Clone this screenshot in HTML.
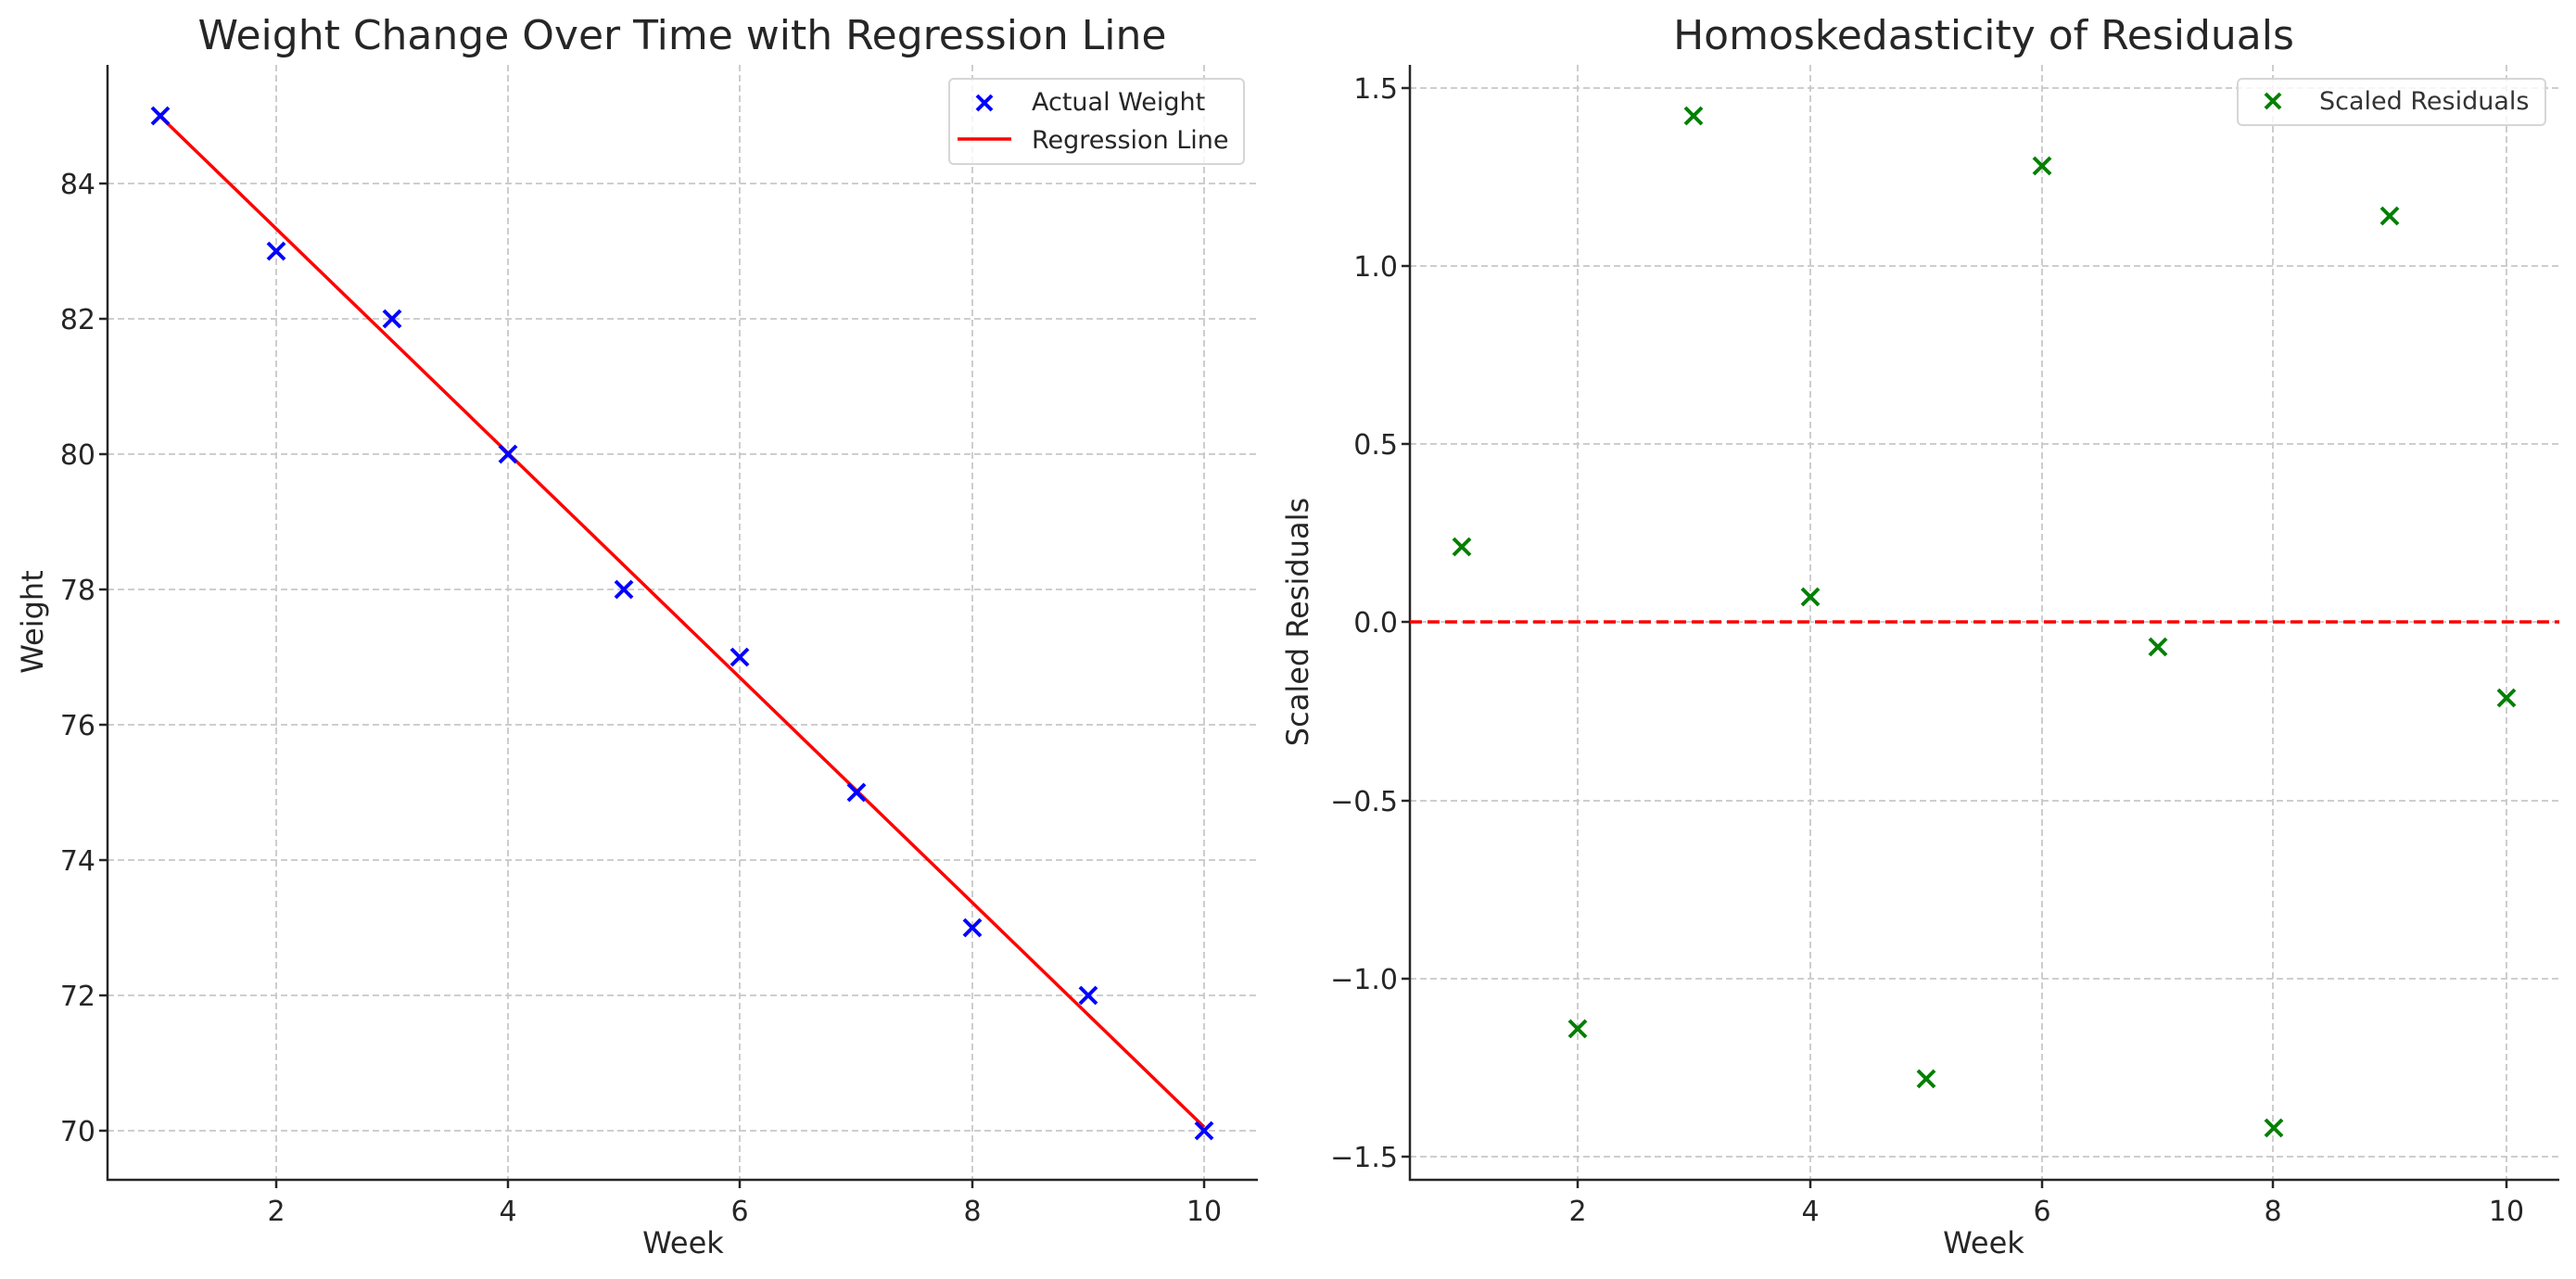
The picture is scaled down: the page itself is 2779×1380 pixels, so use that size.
<!DOCTYPE html>
<html><head><meta charset="utf-8"><style>
html,body{margin:0;padding:0;background:#fff;}
svg{display:block;}
text{font-family:"DejaVu Sans","Liberation Sans",sans-serif;fill:#262626;}
</style></head><body>
<svg width="2779" height="1380" viewBox="0 0 2779 1380" xmlns="http://www.w3.org/2000/svg">
<rect width="2779" height="1380" fill="#fff"/>
<g stroke="#c8c8c8" stroke-width="1.8" stroke-dasharray="7,4" fill="none">
  <line x1="298" y1="70" x2="298" y2="1273"/>
  <line x1="548" y1="70" x2="548" y2="1273"/>
  <line x1="798" y1="70" x2="798" y2="1273"/>
  <line x1="1049" y1="70" x2="1049" y2="1273"/>
  <line x1="1299" y1="70" x2="1299" y2="1273"/>
  <line x1="116" y1="198" x2="1357" y2="198"/>
  <line x1="116" y1="344" x2="1357" y2="344"/>
  <line x1="116" y1="490" x2="1357" y2="490"/>
  <line x1="116" y1="636" x2="1357" y2="636"/>
  <line x1="116" y1="782" x2="1357" y2="782"/>
  <line x1="116" y1="928" x2="1357" y2="928"/>
  <line x1="116" y1="1074" x2="1357" y2="1074"/>
  <line x1="116" y1="1220" x2="1357" y2="1220"/>
  <line x1="1702" y1="70" x2="1702" y2="1273"/>
  <line x1="1953" y1="70" x2="1953" y2="1273"/>
  <line x1="2203" y1="70" x2="2203" y2="1273"/>
  <line x1="2452" y1="70" x2="2452" y2="1273"/>
  <line x1="2704" y1="70" x2="2704" y2="1273"/>
  <line x1="1521" y1="95" x2="2761" y2="95"/>
  <line x1="1521" y1="287" x2="2761" y2="287"/>
  <line x1="1521" y1="479" x2="2761" y2="479"/>
  <line x1="1521" y1="671" x2="2761" y2="671"/>
  <line x1="1521" y1="864" x2="2761" y2="864"/>
  <line x1="1521" y1="1056" x2="2761" y2="1056"/>
  <line x1="1521" y1="1248" x2="2761" y2="1248"/>
</g>

<g stroke="#262626" stroke-width="2.5" fill="none">
  <line x1="116" y1="70" x2="116" y2="1274"/>
  <line x1="115" y1="1273" x2="1357" y2="1273"/>
  <line x1="1521" y1="70" x2="1521" y2="1274"/>
  <line x1="1520" y1="1273" x2="2761" y2="1273"/>
  <line x1="298" y1="1273" x2="298" y2="1282"/>
  <line x1="548" y1="1273" x2="548" y2="1282"/>
  <line x1="798" y1="1273" x2="798" y2="1282"/>
  <line x1="1049" y1="1273" x2="1049" y2="1282"/>
  <line x1="1299" y1="1273" x2="1299" y2="1282"/>
  <line x1="107" y1="198" x2="116" y2="198"/>
  <line x1="107" y1="344" x2="116" y2="344"/>
  <line x1="107" y1="490" x2="116" y2="490"/>
  <line x1="107" y1="636" x2="116" y2="636"/>
  <line x1="107" y1="782" x2="116" y2="782"/>
  <line x1="107" y1="928" x2="116" y2="928"/>
  <line x1="107" y1="1074" x2="116" y2="1074"/>
  <line x1="107" y1="1220" x2="116" y2="1220"/>
  <line x1="1702" y1="1273" x2="1702" y2="1282"/>
  <line x1="1953" y1="1273" x2="1953" y2="1282"/>
  <line x1="2203" y1="1273" x2="2203" y2="1282"/>
  <line x1="2452" y1="1273" x2="2452" y2="1282"/>
  <line x1="2704" y1="1273" x2="2704" y2="1282"/>
  <line x1="1512" y1="95" x2="1521" y2="95"/>
  <line x1="1512" y1="287" x2="1521" y2="287"/>
  <line x1="1512" y1="479" x2="1521" y2="479"/>
  <line x1="1512" y1="671" x2="1521" y2="671"/>
  <line x1="1512" y1="864" x2="1521" y2="864"/>
  <line x1="1512" y1="1056" x2="1521" y2="1056"/>
  <line x1="1512" y1="1248" x2="1521" y2="1248"/>
</g>

<g font-size="30" text-anchor="middle">
  <text x="298" y="1317">2</text><text x="548" y="1317">4</text><text x="798" y="1317">6</text>
  <text x="1049" y="1317">8</text><text x="1299" y="1317">10</text>
  <text x="1702" y="1317">2</text><text x="1953" y="1317">4</text><text x="2203" y="1317">6</text>
  <text x="2452" y="1317">8</text><text x="2704" y="1317">10</text>
</g>
<g font-size="30" text-anchor="end">
  <text x="103" y="209">84</text><text x="103" y="355">82</text><text x="103" y="501">80</text>
  <text x="103" y="647">78</text><text x="103" y="793">76</text><text x="103" y="939">74</text>
  <text x="103" y="1085">72</text><text x="103" y="1231">70</text>
  <text x="1508" y="106">1.5</text><text x="1508" y="298">1.0</text><text x="1508" y="490">0.5</text>
  <text x="1508" y="682">0.0</text><text x="1508" y="875">−0.5</text><text x="1508" y="1067">−1.0</text>
  <text x="1508" y="1259">−1.5</text>
</g>

<g font-size="32" text-anchor="middle">
  <text x="737" y="1352">Week</text>
  <text x="2140" y="1352">Week</text>
  <text transform="translate(46,671) rotate(-90)">Weight</text>
  <text transform="translate(1411,671) rotate(-90)">Scaled Residuals</text>
</g>
<g font-size="44" text-anchor="middle" style="fill:#333">
  <text x="736" y="53">Weight Change Over Time with Regression Line</text>
  <text x="2140" y="53">Homoskedasticity of Residuals</text>
</g>

<line x1="173" y1="125.8" x2="1299" y2="1216" stroke="#ff0000" stroke-width="3.5"/>

<g stroke="#0000ff" stroke-width="4" fill="none">
  <path d="M164,116l18,18M182,116l-18,18"/>
  <path d="M289,262l18,18M307,262l-18,18"/>
  <path d="M414,335l18,18M432,335l-18,18"/>
  <path d="M539,481l18,18M557,481l-18,18"/>
  <path d="M664,627l18,18M682,627l-18,18"/>
  <path d="M789,700l18,18M807,700l-18,18"/>
  <path d="M915,846l18,18M933,846l-18,18"/>
  <path d="M1040,992l18,18M1058,992l-18,18"/>
  <path d="M1165,1065l18,18M1183,1065l-18,18"/>
  <path d="M1290,1211l18,18M1308,1211l-18,18"/>
</g>

<line x1="1521" y1="671" x2="2761" y2="671" stroke="#ff0000" stroke-width="3.5" stroke-dasharray="13,6"/>

<g stroke="#008000" stroke-width="4" fill="none">
  <path d="M1568,581l18,18M1586,581l-18,18"/>
  <path d="M1693,1101l18,18M1711,1101l-18,18"/>
  <path d="M1818,116l18,18M1836,116l-18,18"/>
  <path d="M1944,635l18,18M1962,635l-18,18"/>
  <path d="M2069,1155l18,18M2087,1155l-18,18"/>
  <path d="M2194,170l18,18M2212,170l-18,18"/>
  <path d="M2319,689l18,18M2337,689l-18,18"/>
  <path d="M2444,1208l18,18M2462,1208l-18,18"/>
  <path d="M2569,224l18,18M2587,224l-18,18"/>
  <path d="M2695,744l18,18M2713,744l-18,18"/>
</g>

<rect x="1024" y="85" width="318" height="92" rx="5" fill="#fff" fill-opacity="0.8" stroke="#d6d6d6" stroke-width="2"/>
<path d="M1054,103l16,16M1070,103l-16,16" stroke="#0000ff" stroke-width="4"/>
<line x1="1033" y1="150" x2="1091" y2="150" stroke="#ff0000" stroke-width="3.5"/>
<g font-size="27" style="fill:#333">
  <text x="1113" y="119">Actual Weight</text>
  <text x="1113" y="160">Regression Line</text>
</g>
<rect x="2414" y="85" width="332" height="50" rx="5" fill="#fff" fill-opacity="0.8" stroke="#d6d6d6" stroke-width="2"/>
<path d="M2444,101l16,16M2460,101l-16,16" stroke="#008000" stroke-width="4"/>
<text x="2502" y="118" font-size="27" style="fill:#333">Scaled Residuals</text>
</svg>
</body></html>
